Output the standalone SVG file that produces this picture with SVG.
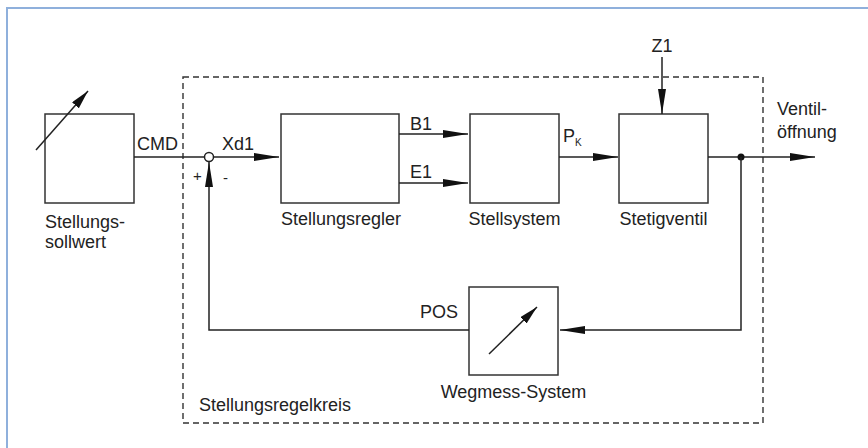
<svg xmlns="http://www.w3.org/2000/svg" width="868" height="448" viewBox="0 0 868 448">
<defs>
<style>
.box{fill:none;stroke:#333;stroke-width:1.5}
.ln{fill:none;stroke:#222;stroke-width:1.5}
.dash{fill:none;stroke:#333;stroke-width:1.4;stroke-dasharray:6 4}
text{font-family:"Liberation Sans",Arial,sans-serif;font-size:18px;fill:#222}
</style>
<marker id="ah" markerUnits="userSpaceOnUse" markerWidth="26" markerHeight="10" refX="25" refY="4" orient="auto">
<path d="M0,0 L25,4 L0,8 z" fill="#111"/>
</marker>
<marker id="ahs" markerUnits="userSpaceOnUse" markerWidth="20" markerHeight="10" refX="19" refY="4.5" orient="auto">
<path d="M0,0 L19,4.5 L0,9 z" fill="#111"/>
</marker>
</defs>
<rect x="0" y="0" width="868" height="448" fill="#fff"/>
<rect x="7" y="8" width="900" height="500" fill="none" stroke="#8fb0dc" stroke-width="2"/>

<g id="regelkreis">
<rect class="dash" x="183" y="77" width="580" height="346"/>
<text x="199" y="411">Stellungsregelkreis</text>
</g>

<g id="sollwert">
<rect class="box" x="45" y="114" width="89" height="89"/>
<line class="ln" x1="36" y1="150" x2="88" y2="91" marker-end="url(#ahs)"/>
<text x="45" y="228">Stellungs-</text>
<text x="45" y="248">sollwert</text>
</g>

<g id="regler">
<rect class="box" x="281" y="114" width="118" height="89"/>
<text x="341" y="225" text-anchor="middle">Stellungsregler</text>
</g>

<g id="stellsystem">
<rect class="box" x="470" y="114" width="89" height="89"/>
<text x="514.5" y="225" text-anchor="middle">Stellsystem</text>
</g>

<g id="stetigventil">
<rect class="box" x="619" y="114" width="89" height="89"/>
<text x="663.5" y="225" text-anchor="middle">Stetigventil</text>
</g>

<g id="wegmess">
<rect class="box" x="469" y="287" width="89" height="88"/>
<line class="ln" x1="489" y1="354" x2="537" y2="307" marker-end="url(#ahs)"/>
<text x="513.5" y="398" text-anchor="middle">Wegmess-System</text>
</g>

<g id="summierer">
<circle cx="209" cy="157" r="4.5" fill="#fff" stroke="#222" stroke-width="1.5"/>
<text x="193" y="181" style="font-size:15px">+</text>
<text x="223" y="183" style="font-size:15px">-</text>
</g>

<g id="connectors">
<line class="ln" x1="134" y1="157" x2="204.5" y2="157"/>
<line class="ln" x1="213.5" y1="157" x2="279" y2="157" marker-end="url(#ah)"/>
<line class="ln" x1="399" y1="134" x2="468" y2="134" marker-end="url(#ah)"/>
<line class="ln" x1="399" y1="183" x2="468" y2="183" marker-end="url(#ah)"/>
<line class="ln" x1="559" y1="157" x2="618" y2="157" marker-end="url(#ah)"/>
<line class="ln" x1="662" y1="57" x2="662" y2="114" marker-end="url(#ah)"/>
<line class="ln" x1="708" y1="157" x2="815" y2="157" marker-end="url(#ah)"/>
<circle cx="741" cy="157" r="3.5" fill="#111"/>
<polyline class="ln" points="741,157 741,330 560,330" marker-end="url(#ah)"/>
<polyline class="ln" points="469,330 209,330 209,162" marker-end="url(#ah)"/>
</g>

<g id="labels">
<text x="137" y="150">CMD</text>
<text x="222" y="150">Xd1</text>
<text x="410" y="130">B1</text>
<text x="410" y="178">E1</text>
<text x="563" y="142">P</text>
<text x="575" y="146" style="font-size:10px">K</text>
<text x="662" y="52" text-anchor="middle">Z1</text>
<text x="777" y="115">Ventil-</text>
<text x="777" y="138">öffnung</text>
<text x="420" y="318">POS</text>
</g>
</svg>
